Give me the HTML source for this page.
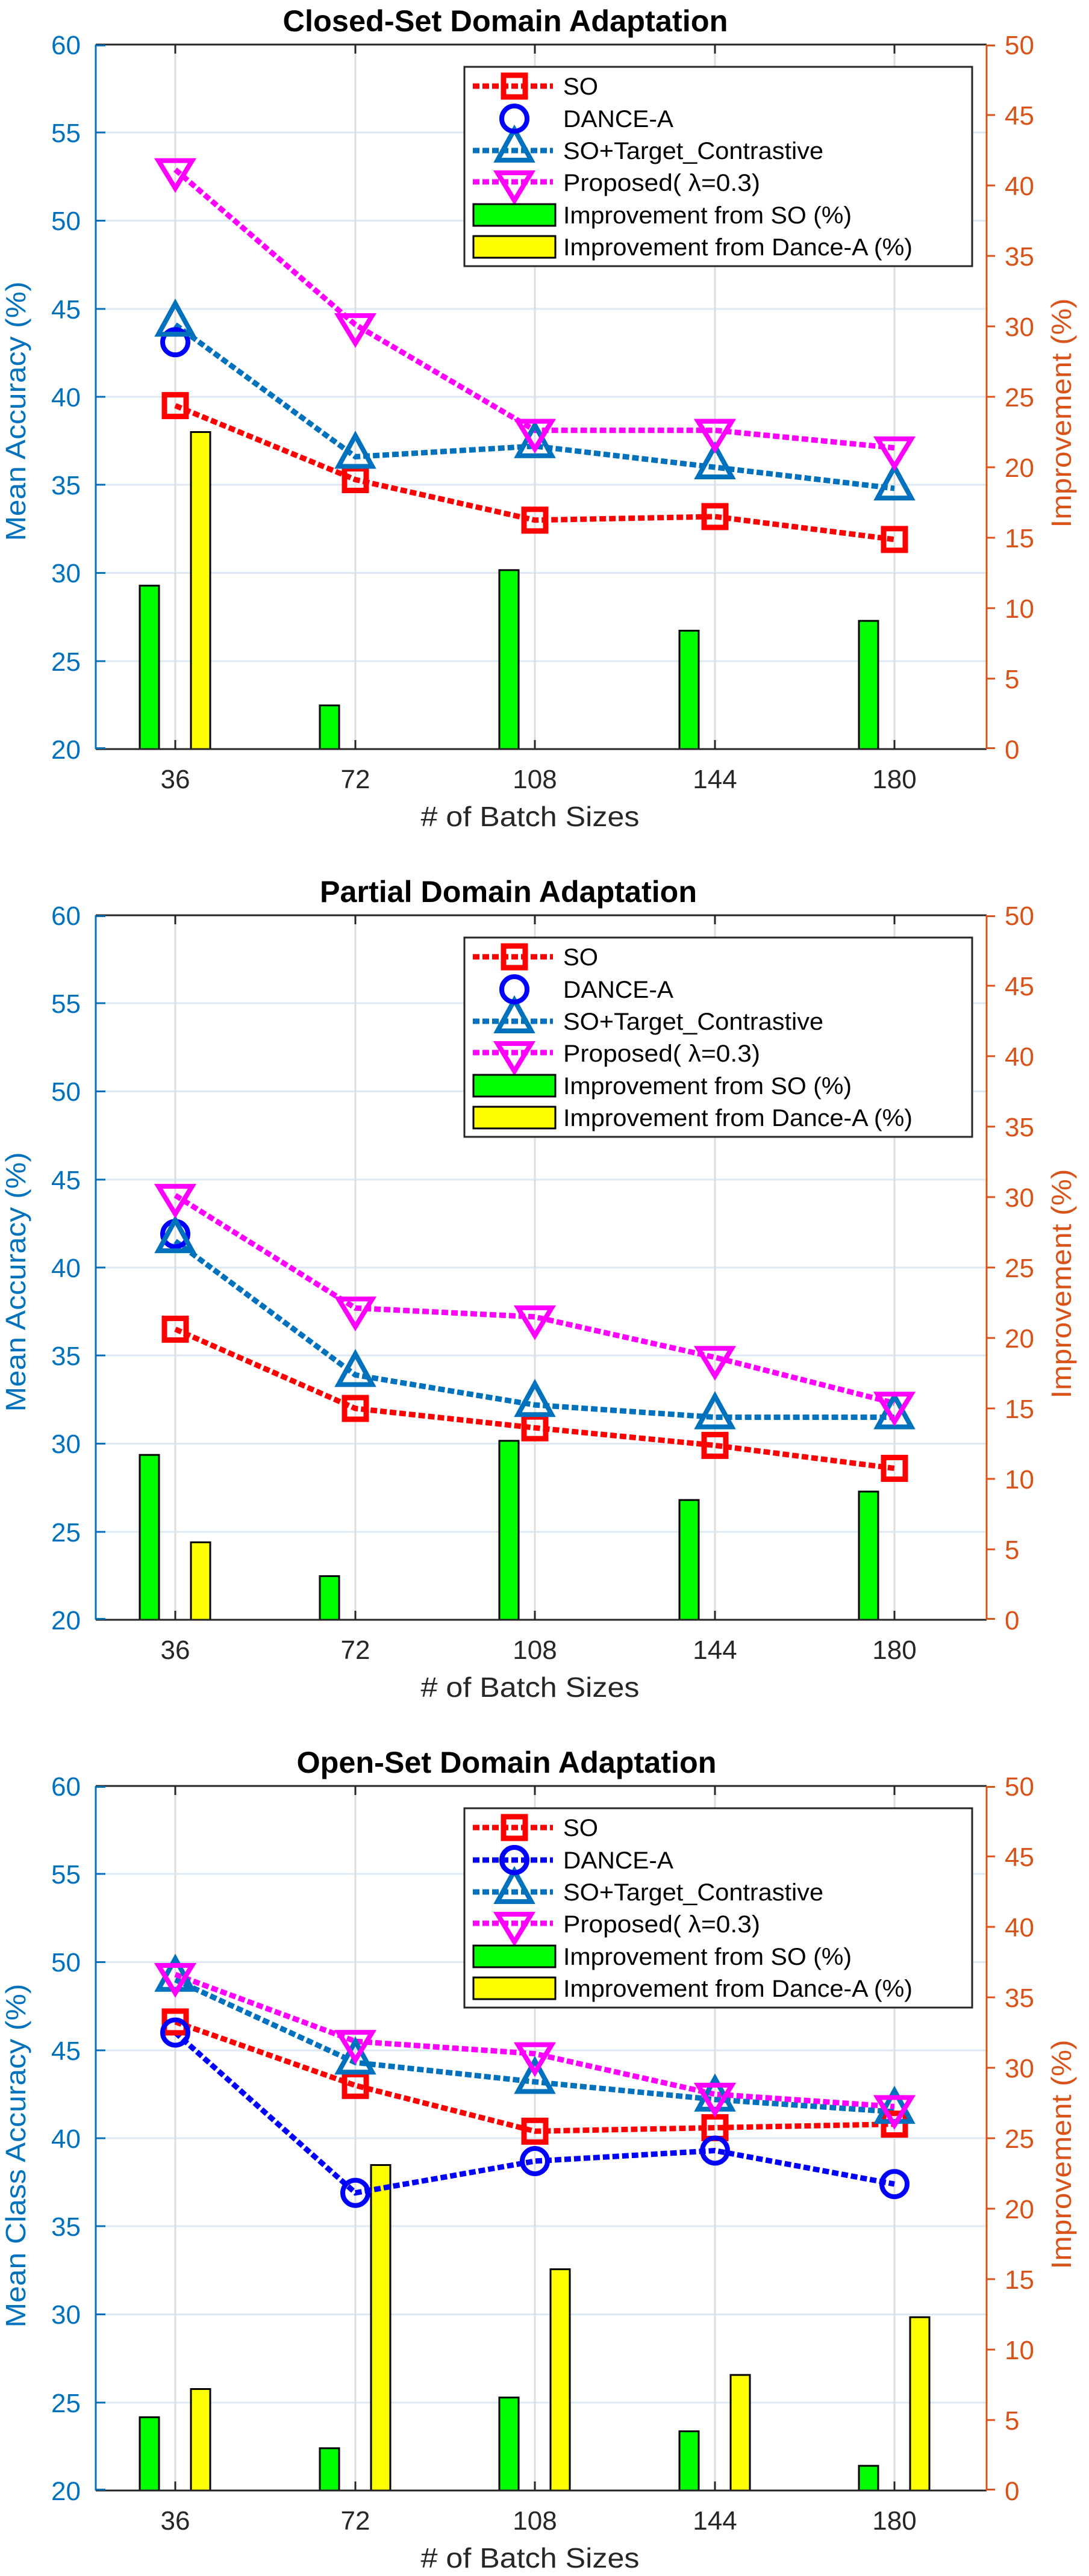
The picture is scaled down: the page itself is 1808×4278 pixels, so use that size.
<!DOCTYPE html>
<html><head><meta charset="utf-8"><style>html,body{margin:0;padding:0;background:#fff}svg{display:block}</style></head>
<body>
<svg xmlns="http://www.w3.org/2000/svg" width="1808" height="4278" viewBox="0 0 1808 4278" font-family="Liberation Sans, Arial, sans-serif">
<defs>
<g id="sq"><rect x="-18" y="-18" width="36" height="36" fill="none" stroke="#FF0000" stroke-width="9"/></g>
<g id="ci"><circle r="21" fill="none" stroke="#0000FF" stroke-width="8"/></g>
<g id="tu"><polygon points="0,-35 28,16 -28,16" fill="none" stroke="#0072BD" stroke-width="8" stroke-linejoin="miter"/></g>
<g id="td"><polygon points="0,31 28,-15 -28,-15" fill="none" stroke="#FF00FF" stroke-width="8"/></g>
<g id="frame">
  <g stroke="#DCE8F3" stroke-width="3">
    <line x1="159" x2="1638" y1="146" y2="146"/><line x1="159" x2="1638" y1="292.5" y2="292.5"/>
    <line x1="159" x2="1638" y1="439" y2="439"/><line x1="159" x2="1638" y1="585" y2="585"/>
    <line x1="159" x2="1638" y1="731" y2="731"/><line x1="159" x2="1638" y1="877.5" y2="877.5"/>
    <line x1="159" x2="1638" y1="1024" y2="1024"/>
  </g>
  <g stroke="#DEDEDE" stroke-width="3">
    <line x1="291" x2="291" y1="0" y2="1170"/><line x1="590" x2="590" y1="0" y2="1170"/>
    <line x1="888" x2="888" y1="0" y2="1170"/><line x1="1187" x2="1187" y1="0" y2="1170"/>
    <line x1="1485" x2="1485" y1="0" y2="1170"/>
  </g>
</g>
<g id="axes">
  <line x1="159" x2="1638" y1="0" y2="0" stroke="#262626" stroke-width="3"/>
  <line x1="159" x2="1638" y1="1170" y2="1170" stroke="#262626" stroke-width="3"/>
  <g stroke="#262626" stroke-width="3">
    <line x1="291" x2="291" y1="0" y2="15"/><line x1="590" x2="590" y1="0" y2="15"/><line x1="888" x2="888" y1="0" y2="15"/><line x1="1187" x2="1187" y1="0" y2="15"/><line x1="1485" x2="1485" y1="0" y2="15"/>
    <line x1="291" x2="291" y1="1170" y2="1155"/><line x1="590" x2="590" y1="1170" y2="1155"/><line x1="888" x2="888" y1="1170" y2="1155"/><line x1="1187" x2="1187" y1="1170" y2="1155"/><line x1="1485" x2="1485" y1="1170" y2="1155"/>
  </g>
  <line x1="159" x2="159" y1="0" y2="1170" stroke="#0072BD" stroke-width="3"/>
  <g stroke="#0072BD" stroke-width="3">
    <line x1="159" x2="175" y1="1.5" y2="1.5"/><line x1="159" x2="175" y1="146" y2="146"/><line x1="159" x2="175" y1="292.5" y2="292.5"/><line x1="159" x2="175" y1="439" y2="439"/><line x1="159" x2="175" y1="585" y2="585"/><line x1="159" x2="175" y1="731" y2="731"/><line x1="159" x2="175" y1="877.5" y2="877.5"/><line x1="159" x2="175" y1="1024" y2="1024"/><line x1="159" x2="175" y1="1168.5" y2="1168.5"/>
  </g>
  <line x1="1638" x2="1638" y1="0" y2="1170" stroke="#D95319" stroke-width="3"/>
  <g stroke="#D95319" stroke-width="3">
    <line x1="1638" x2="1652" y1="1.5" y2="1.5"/><line x1="1638" x2="1652" y1="117" y2="117"/><line x1="1638" x2="1652" y1="234" y2="234"/><line x1="1638" x2="1652" y1="351" y2="351"/><line x1="1638" x2="1652" y1="468" y2="468"/><line x1="1638" x2="1652" y1="585" y2="585"/><line x1="1638" x2="1652" y1="702" y2="702"/><line x1="1638" x2="1652" y1="819" y2="819"/><line x1="1638" x2="1652" y1="936" y2="936"/><line x1="1638" x2="1652" y1="1053" y2="1053"/><line x1="1638" x2="1652" y1="1168.5" y2="1168.5"/>
  </g>
  <g fill="#0072BD" font-size="44" text-anchor="end">
    <text x="134" y="16">60</text><text x="134" y="162">55</text><text x="134" y="308">50</text><text x="134" y="455">45</text><text x="134" y="601">40</text><text x="134" y="747">35</text><text x="134" y="893">30</text><text x="134" y="1040">25</text><text x="134" y="1186">20</text>
  </g>
  <g fill="#D95319" font-size="44" text-anchor="start">
    <text x="1668" y="16">50</text><text x="1668" y="133">45</text><text x="1668" y="250">40</text><text x="1668" y="367">35</text><text x="1668" y="484">30</text><text x="1668" y="601">25</text><text x="1668" y="718">20</text><text x="1668" y="835">15</text><text x="1668" y="952">10</text><text x="1668" y="1069">5</text><text x="1668" y="1186">0</text>
  </g>
  <g fill="#262626" font-size="44" text-anchor="middle">
    <text x="291" y="1235">36</text><text x="590" y="1235">72</text><text x="888" y="1235">108</text><text x="1187" y="1235">144</text><text x="1485" y="1235">180</text>
  </g>
  <text x="880" y="1298" font-size="46" fill="#262626" text-anchor="middle" textLength="363" lengthAdjust="spacingAndGlyphs"># of Batch Sizes</text>
  <text transform="translate(1778,612) rotate(-90)" font-size="46" fill="#D95319" text-anchor="middle" textLength="381" lengthAdjust="spacingAndGlyphs">Improvement (%)</text>
</g>
<g id="legbase">
  <rect x="771" y="37" width="843" height="331" fill="#fff" stroke="#262626" stroke-width="3"/>
  <line x1="785" x2="918" y1="69" y2="69" stroke="#FF0000" stroke-width="9" stroke-dasharray="11,5"/>
  <use href="#sq" x="854" y="69"/>
  <line x1="785" x2="918" y1="176" y2="176" stroke="#0072BD" stroke-width="9" stroke-dasharray="11,5"/>
  <use href="#tu" x="854" y="176"/>
  <line x1="785" x2="918" y1="228" y2="228" stroke="#FF00FF" stroke-width="9" stroke-dasharray="11,5"/>
  <use href="#td" x="854" y="228"/>
  <rect x="786" y="265" width="136" height="36" fill="#00FF00" stroke="#000" stroke-width="3"/>
  <rect x="786" y="318" width="136" height="36" fill="#FFFF00" stroke="#000" stroke-width="3"/>
  <g font-size="40" fill="#000">
    <text x="935" y="83" textLength="58" lengthAdjust="spacingAndGlyphs">SO</text>
    <text x="935" y="137" textLength="183" lengthAdjust="spacingAndGlyphs">DANCE-A</text>
    <text x="935" y="190" textLength="432" lengthAdjust="spacingAndGlyphs">SO+Target_Contrastive</text>
    <text x="935" y="243" textLength="327" lengthAdjust="spacingAndGlyphs">Proposed(  λ=0.3)</text>
    <text x="935" y="297" textLength="479" lengthAdjust="spacingAndGlyphs">Improvement from SO (%)</text>
    <text x="935" y="350" textLength="580" lengthAdjust="spacingAndGlyphs">Improvement from Dance-A (%)</text>
  </g>
  <use href="#ci" x="854" y="123"/>
</g>
</defs>

<g transform="translate(0,74)">
  <use href="#frame"/>
  <g stroke="#000" stroke-width="3">
    <rect x="232" y="898.6" width="32" height="271.4" fill="#00FF00"/>
    <rect x="531" y="1097.5" width="32" height="72.5" fill="#00FF00"/>
    <rect x="829" y="872.8" width="32" height="297.2" fill="#00FF00"/>
    <rect x="1128" y="973.4" width="32" height="196.6" fill="#00FF00"/>
    <rect x="1426" y="957.1" width="32" height="212.9" fill="#00FF00"/>
    <rect x="317" y="643.5" width="32" height="526.5" fill="#FFFF00"/>
  </g>
  <g fill="none" stroke-width="9" stroke-dasharray="11,5">
    <polyline stroke="#FF0000" points="291,599.6 590,722.5 888,789.8 1187,783.9 1485,821.9"/>
    <polyline stroke="#0072BD" points="291,465.1 590,684.5 888,666.9 1187,702 1485,737.1"/>
    <polyline stroke="#FF00FF" points="291,207.7 590,465.1 888,640.6 1187,640.6 1485,669.8"/>
  </g>
  <use href="#sq" x="291" y="599.6"/><use href="#sq" x="590" y="722.5"/><use href="#sq" x="888" y="789.8"/><use href="#sq" x="1187" y="783.9"/><use href="#sq" x="1485" y="821.9"/>
  <use href="#ci" x="291" y="494.3"/>
  <use href="#tu" x="291" y="465.1"/><use href="#tu" x="590" y="684.5"/><use href="#tu" x="888" y="666.9"/><use href="#tu" x="1187" y="702"/><use href="#tu" x="1485" y="737.1"/>
  <use href="#td" x="291" y="207.7"/><use href="#td" x="590" y="465.1"/><use href="#td" x="888" y="640.6"/><use href="#td" x="1187" y="640.6"/><use href="#td" x="1485" y="669.8"/>
  <use href="#axes"/>
  <use href="#legbase"/>
  <text x="839" y="-22" font-size="50" font-weight="bold" fill="#000" text-anchor="middle" textLength="739" lengthAdjust="spacingAndGlyphs">Closed-Set Domain Adaptation</text>
  <text transform="translate(42,609) rotate(-90)" font-size="46" fill="#0072BD" text-anchor="middle" textLength="431" lengthAdjust="spacingAndGlyphs">Mean Accuracy (%)</text>
</g>

<g transform="translate(0,1520)">
  <use href="#frame"/>
  <g stroke="#000" stroke-width="3">
    <rect x="232" y="896.2" width="32" height="273.8" fill="#00FF00"/>
    <rect x="531" y="1097.5" width="32" height="72.5" fill="#00FF00"/>
    <rect x="829" y="872.8" width="32" height="297.2" fill="#00FF00"/>
    <rect x="1128" y="971.1" width="32" height="198.9" fill="#00FF00"/>
    <rect x="1426" y="957.1" width="32" height="212.9" fill="#00FF00"/>
    <rect x="317" y="1041.3" width="32" height="128.7" fill="#FFFF00"/>
  </g>
  <g fill="none" stroke-width="9" stroke-dasharray="11,5">
    <polyline stroke="#FF0000" points="291,687.4 590,819 888,851.2 1187,880.4 1485,918.5"/>
    <polyline stroke="#0072BD" points="291,541.1 590,763.4 888,813.2 1187,833.6 1485,833.6"/>
    <polyline stroke="#FF00FF" points="291,465.1 590,652.3 888,666.9 1187,734.2 1485,810.2"/>
  </g>
  <use href="#sq" x="291" y="687.4"/><use href="#sq" x="590" y="819"/><use href="#sq" x="888" y="851.2"/><use href="#sq" x="1187" y="880.4"/><use href="#sq" x="1485" y="918.5"/>
  <use href="#ci" x="291" y="529.4"/>
  <use href="#tu" x="291" y="541.1"/><use href="#tu" x="590" y="763.4"/><use href="#tu" x="888" y="813.2"/><use href="#tu" x="1187" y="833.6"/><use href="#tu" x="1485" y="833.6"/>
  <use href="#td" x="291" y="465.1"/><use href="#td" x="590" y="652.3"/><use href="#td" x="888" y="666.9"/><use href="#td" x="1187" y="734.2"/><use href="#td" x="1485" y="810.2"/>
  <use href="#axes"/>
  <use href="#legbase"/>
  <text x="844" y="-22" font-size="50" font-weight="bold" fill="#000" text-anchor="middle" textLength="626" lengthAdjust="spacingAndGlyphs">Partial Domain Adaptation</text>
  <text transform="translate(42,609) rotate(-90)" font-size="46" fill="#0072BD" text-anchor="middle" textLength="431" lengthAdjust="spacingAndGlyphs">Mean Accuracy (%)</text>
</g>

<g transform="translate(0,2966)">
  <use href="#frame"/>
  <g stroke="#000" stroke-width="3">
    <rect x="232" y="1048.3" width="32" height="121.7" fill="#00FF00"/>
    <rect x="531" y="1099.8" width="32" height="70.2" fill="#00FF00"/>
    <rect x="829" y="1015.6" width="32" height="154.4" fill="#00FF00"/>
    <rect x="1128" y="1071.7" width="32" height="98.3" fill="#00FF00"/>
    <rect x="1426" y="1129" width="32" height="41" fill="#00FF00"/>
    <rect x="317" y="1001.5" width="32" height="168.5" fill="#FFFF00"/>
    <rect x="616" y="629.5" width="32" height="540.5" fill="#FFFF00"/>
    <rect x="914" y="802.6" width="32" height="367.4" fill="#FFFF00"/>
    <rect x="1213" y="978.1" width="32" height="191.9" fill="#FFFF00"/>
    <rect x="1511" y="882.2" width="32" height="287.8" fill="#FFFF00"/>
  </g>
  <g fill="none" stroke-width="9" stroke-dasharray="11,5">
    <polyline stroke="#FF0000" points="291,391.9 590,497.3 888,573.3 1187,567.5 1485,561.6"/>
    <polyline stroke="#0000FF" points="291,409.5 590,675.7 888,623 1187,605.5 1485,661.1"/>
    <polyline stroke="#0072BD" points="291,321.8 590,459.2 888,491.4 1187,520.7 1485,541.1"/>
    <polyline stroke="#FF00FF" points="291,313 590,424.1 888,444.6 1187,511.9 1485,532.4"/>
  </g>
  <use href="#sq" x="291" y="391.9"/><use href="#sq" x="590" y="497.3"/><use href="#sq" x="888" y="573.3"/><use href="#sq" x="1187" y="567.5"/><use href="#sq" x="1485" y="561.6"/>
  <use href="#ci" x="291" y="409.5"/><use href="#ci" x="590" y="675.7"/><use href="#ci" x="888" y="623"/><use href="#ci" x="1187" y="605.5"/><use href="#ci" x="1485" y="661.1"/>
  <use href="#tu" x="291" y="321.8"/><use href="#tu" x="590" y="459.2"/><use href="#tu" x="888" y="491.4"/><use href="#tu" x="1187" y="520.7"/><use href="#tu" x="1485" y="541.1"/>
  <use href="#td" x="291" y="313"/><use href="#td" x="590" y="424.1"/><use href="#td" x="888" y="444.6"/><use href="#td" x="1187" y="511.9"/><use href="#td" x="1485" y="532.4"/>
  <use href="#axes"/>
  <use href="#legbase"/>
  <line x1="785" x2="918" y1="123" y2="123" stroke="#0000FF" stroke-width="9" stroke-dasharray="11,5"/>
  <use href="#ci" x="854" y="123"/>
  <text x="841" y="-22" font-size="50" font-weight="bold" fill="#000" text-anchor="middle" textLength="697" lengthAdjust="spacingAndGlyphs">Open-Set Domain Adaptation</text>
  <text transform="translate(42,614) rotate(-90)" font-size="46" fill="#0072BD" text-anchor="middle" textLength="571" lengthAdjust="spacingAndGlyphs">Mean Class Accuracy (%)</text>
</g>
</svg>
</body></html>
